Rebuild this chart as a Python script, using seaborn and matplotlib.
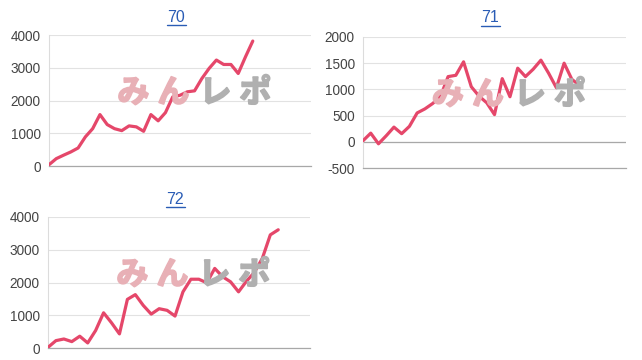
import numpy as np
import pandas as pd
import matplotlib
matplotlib.use("Agg")
import matplotlib.pyplot as plt
from matplotlib.lines import Line2D
import matplotlib.patheffects as pe
import seaborn as sns

# ---- data ----
titles = ["70", "71", "72"]
s70 = [40, 225, 330, 430, 550, 890, 1140, 1570, 1265, 1140, 1080, 1225, 1195, 1060,
       1570, 1380, 1630, 2110, 2160, 2265, 2295, 2670, 2980, 3235, 3100, 3100, 2825,
       3335, 3815]
s71 = [20, 165, -38, 115, 280, 155, 295, 551, 628, 730, 860, 1244, 1269, 1526, 1051,
       872, 744, 519, 1205, 860, 1405, 1244, 1385, 1558, 1308, 1032, 1500, 1192, 1077]
s72 = [20, 225, 275, 195, 360, 155, 535, 1075, 770, 430, 1485, 1630, 1300, 1035, 1200,
       1150, 975, 1715, 2100, 2100, 1990, 2430, 2175, 2020, 1715, 2040, 2310, 2740,
       3455, 3610]
yticks70 = [0, 1000, 2000, 3000, 4000]
yticks71 = [-500, 0, 500, 1000, 1500, 2000]
yticks72 = [0, 1000, 2000, 3000, 4000]
x_slots = [36, 34, 33]
watermark = ["み", "ん", "レ", "ポ"]

series = [s70, s71, s72]
yticks = [yticks70, yticks71, yticks72]

# ---- style ----
sns.set_style("white")
plt.rcParams["font.family"] = ["Liberation Sans", "Noto Sans CJK JP", "DejaVu Sans"]

W, H = 642, 360
fig = plt.figure(figsize=(W / 100, H / 100), dpi=100)

# axes boxes in pixels: left, top, right, bottom
boxes = [(49, 35, 311, 166), (363, 37, 626, 168), (48, 217, 310, 348)]
title_pos = [(176, 17), (490, 18), (175, 199)]

line_color = "#e5476a"
title_color = "#2a5cb5"
pink = "#e8b0b6"
grey = "#b0b0b0"
wm_colors = [pink, pink, grey, grey]
# character centres relative to the split point, in px
wm_offsets = [-61, -21, 21, 61]

for i in range(3):
    l, t, r, b = boxes[i]
    ax = fig.add_axes([l / W, 1 - b / H, (r - l) / W, (b - t) / H])
    df = pd.DataFrame({"x": np.arange(len(series[i])), "y": series[i]})
    sns.lineplot(data=df, x="x", y="y", ax=ax, color=line_color, linewidth=2.3,
                 zorder=5)
    ax.set_xlim(0, x_slots[i])
    ax.set_ylim(yticks[i][0], yticks[i][-1])
    ax.set_yticks(yticks[i])
    ax.set_yticklabels([str(v) for v in yticks[i]])
    ax.set_xticks([])
    ax.set_xlabel("")
    ax.set_ylabel("")
    ax.tick_params(axis="y", length=0, pad=6, labelsize=9.8, labelcolor="#444444")
    ax.grid(axis="y", color="#e2e2e2", linewidth=0.8, zorder=0)
    ax.set_axisbelow(True)
    for sp in ["top", "right"]:
        ax.spines[sp].set_visible(False)
    ax.spines["left"].set_color("#dcdcdc")
    ax.spines["left"].set_linewidth(0.8)
    ax.spines["bottom"].set_color("#a8a8a8")
    ax.spines["bottom"].set_linewidth(0.9)
    if yticks[i][0] < 0:
        ax.axhline(0, color="#a8a8a8", linewidth=0.9, zorder=1)

    # watermark, one glyph at a time for wide spacing
    split_x = l + 0.555 * (r - l)
    wm_y = 1 - (b - 0.555 * (b - t)) / H
    for ch, col, off in zip(watermark, wm_colors, wm_offsets):
        fig.text((split_x + off) / W, wm_y, ch, ha="center", va="center",
                 fontsize=23, fontweight="bold", color=col,
                 family=["Noto Sans CJK JP"], zorder=2,
                 path_effects=[pe.withStroke(linewidth=1.3, foreground=col)])

    # title (link style with underline)
    cx, cy = title_pos[i]
    fig.text(cx / W, 1 - cy / H, titles[i], ha="center", va="center",
             fontsize=11.5, color=title_color)
    fig.add_artist(Line2D([(cx - 9.5) / W, (cx + 9.5) / W],
                          [1 - (cy + 7.5) / H, 1 - (cy + 7.5) / H],
                          transform=fig.transFigure, color=title_color,
                          linewidth=1.0))

fig.savefig("out.png", dpi=100)
